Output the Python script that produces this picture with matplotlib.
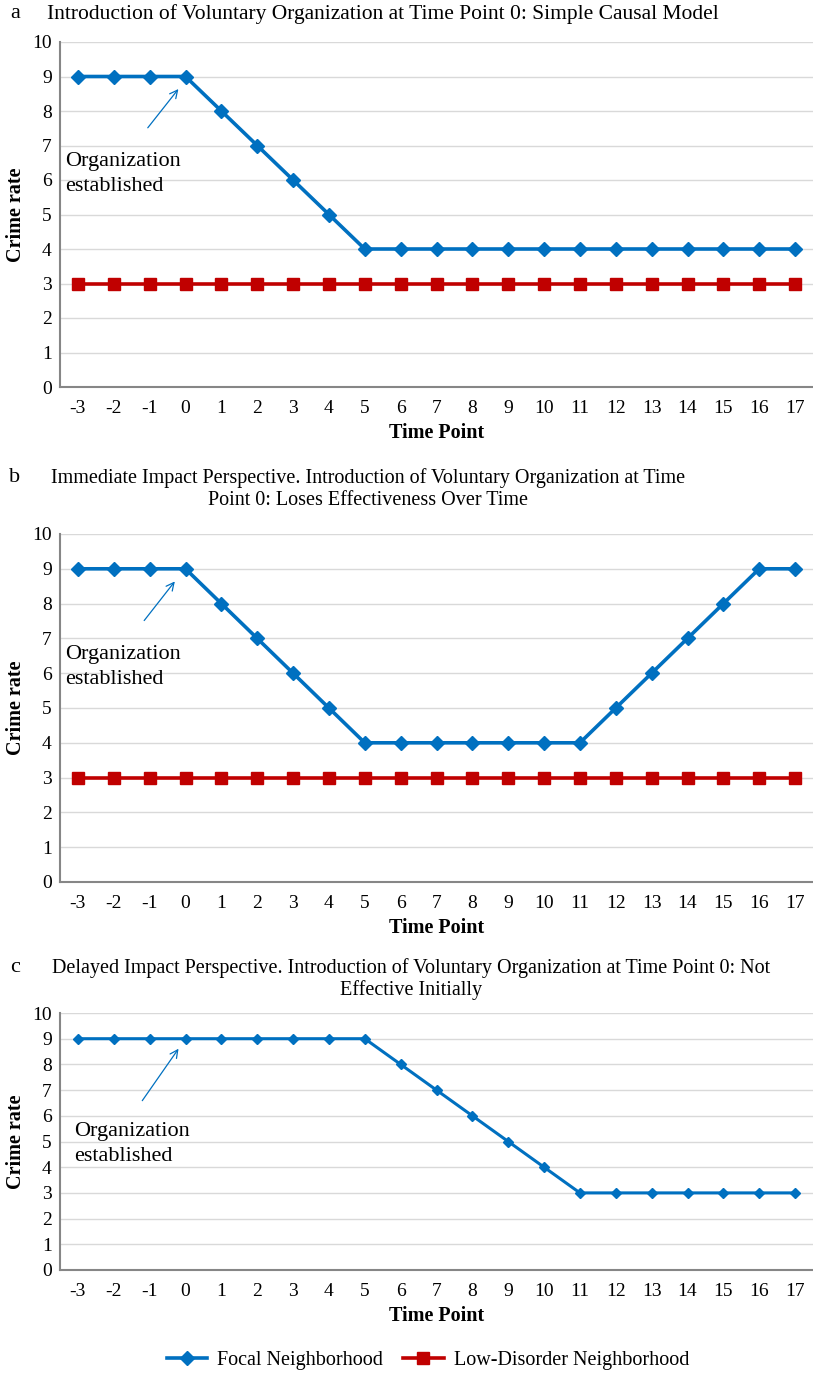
import matplotlib
matplotlib.use("Agg")
import matplotlib.pyplot as plt
from matplotlib.lines import Line2D

plt.rcParams['font.family'] = ['Liberation Serif', 'DejaVu Serif']

# data
time = [-3, -2, -1, 0, 1, 2, 3, 4, 5, 6, 7, 8, 9, 10, 11, 12, 13, 14, 15, 16, 17]
focal_a = [9, 9, 9, 9, 8, 7, 6, 5, 4, 4, 4, 4, 4, 4, 4, 4, 4, 4, 4, 4, 4]
focal_b = [9, 9, 9, 9, 8, 7, 6, 5, 4, 4, 4, 4, 4, 4, 4, 5, 6, 7, 8, 9, 9]
focal_c = [9, 9, 9, 9, 9, 9, 9, 9, 9, 8, 7, 6, 5, 4, 3, 3, 3, 3, 3, 3, 3]
low_disorder = [3, 3, 3, 3, 3, 3, 3, 3, 3, 3, 3, 3, 3, 3, 3, 3, 3, 3, 3, 3, 3]

titles = ["Introduction of Voluntary Organization at Time Point 0: Simple Causal Model",
          "Immediate Impact Perspective. Introduction of Voluntary Organization at Time\nPoint 0: Loses Effectiveness Over Time",
          "Delayed Impact Perspective. Introduction of Voluntary Organization at Time Point 0: Not\nEffective Initially"]
letters = ["a", "b", "c"]

BLUE = "#0070C0"
RED = "#C00000"

W, H = 813, 1380
fig = plt.figure(figsize=(W / 100, H / 100), dpi=100)


def px_axes(left, top, right, bottom):
    return fig.add_axes([left / W, 1 - bottom / H, (right - left) / W, (bottom - top) / H])


# pixel boxes of the three panels: left, top, right, bottom
boxes = [(60, 42, 813, 387), (60, 534, 813, 882), (60, 1013, 813, 1270)]
title_y = [14, 489, 979]   # centre of the title block
letter_y = [14, 477, 967]
title_x = [383, 368, 411]
title_size = [15.5, 14.5, 14.5]
focals = [focal_a, focal_b, focal_c]
# arrow (start, end) and text position in data units
arrows = [((-1.1, 7.45), (-0.15, 8.7)), ((-1.2, 7.45), (-0.25, 8.7)), ((-1.25, 6.5), (-0.15, 8.7))]
text_pos = [(-3.35, 6.8), (-3.35, 6.8), (-3.1, 5.75)]

for i, ax in enumerate([px_axes(*b) for b in boxes]):
    small = i == 2
    ax.plot(time, focals[i], color=BLUE, lw=2.2 if small else 2.6, marker="D",
            ms=5.5 if small else 7, zorder=3)
    if not small:
        ax.plot(time, low_disorder, color=RED, lw=2.6, marker="s", ms=8, zorder=3)

    ax.set_xlim(-3.5, 17.5)
    ax.set_ylim(0, 10)
    ax.set_xticks(time)
    ax.set_xticklabels([str(t) for t in time])
    ax.set_yticks(range(0, 11))
    ax.grid(axis="y", color="#D9D9D9", lw=1)
    ax.set_axisbelow(True)
    for s in ["top", "right"]:
        ax.spines[s].set_visible(False)
    for s in ["left", "bottom"]:
        ax.spines[s].set_color("#868686")
        ax.spines[s].set_linewidth(1.5)
    ax.tick_params(axis="both", length=0, labelsize=14)
    ax.tick_params(axis="x", pad=9)
    ax.tick_params(axis="y", pad=6)
    ax.set_xlabel("Time Point", fontsize=14.5, fontweight="bold", labelpad=5)

    (x0, y0), (x1, y1) = arrows[i]
    ax.annotate("", xy=(x1, y1), xytext=(x0, y0),
                arrowprops=dict(arrowstyle="->", color=BLUE, lw=0.9, mutation_scale=14))
    ax.text(text_pos[i][0], text_pos[i][1], "Organization\nestablished", fontsize=16,
            va="top", ha="left", linespacing=1.4)

    b = boxes[i]
    fig.text(16 / W, 1 - ((b[1] + b[3]) / 2) / H, "Crime rate", rotation=90, fontsize=14.5,
             fontweight="bold", ha="center", va="center")
    fig.text(15 / W, 1 - letter_y[i] / H, letters[i], fontsize=16, ha="center", va="center")
    fig.text(title_x[i] / W, 1 - title_y[i] / H, titles[i], fontsize=title_size[i], ha="center",
             va="center", linespacing=1.2)

handles = [Line2D([], [], color=BLUE, lw=2.6, marker="D", ms=7),
           Line2D([], [], color=RED, lw=2.6, marker="s", ms=8)]
fig.legend(handles, ["Focal Neighborhood", "Low-Disorder Neighborhood"], loc="center",
           bbox_to_anchor=(428 / W, 1 - 1360 / H), ncol=2, frameon=False, fontsize=14.5,
           handlelength=2.0, handletextpad=0.5, columnspacing=1.0)

fig.savefig("out.png", dpi=100)
